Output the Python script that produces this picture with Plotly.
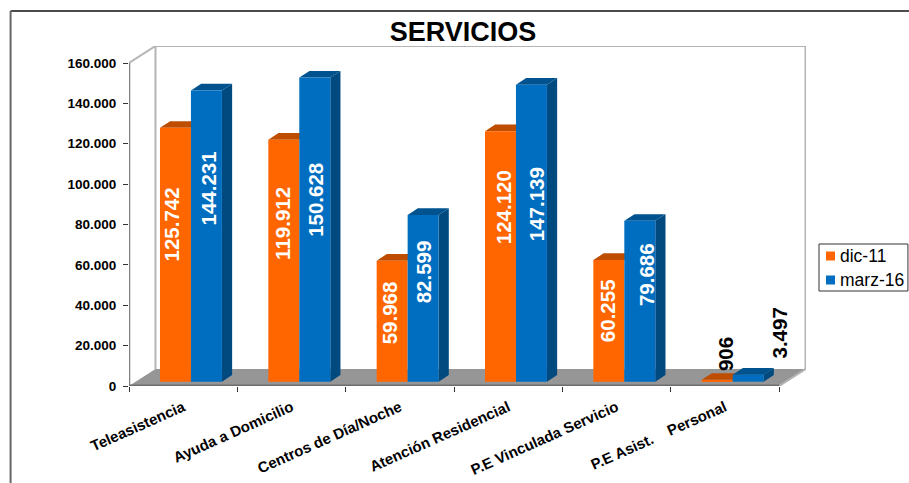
import plotly.graph_objects as go

categories = ["Teleasistencia", "Ayuda a Domicilio", "Centros de Día/Noche",
              "Atención Residencial", "P.E Vinculada Servicio",
              "P.E Asist.\u00a0\u00a0\u00a0\u00a0Personal"]
dic_11 = [125742, 119912, 59968, 124120, 60255, 906]
marz_16 = [144231, 150628, 82599, 147139, 79686, 3497]
y_ticks = [0, 20000, 40000, 60000, 80000, 100000, 120000, 140000, 160000]
y_tick_text = ["0", "20.000", "40.000", "60.000", "80.000", "100.000", "120.000", "140.000", "160.000"]

ORANGE, ORANGE_TOP = "#FF6600", "#BF4D00"
BLUE, BLUE_TOP, BLUE_SIDE = "#006EC0", "#00538F", "#004A80"

W, H = 909, 483
L, R, T, B = 128.5, 806.0, 46.0, 386.0       # plot area in page pixels
CAT_PX = 108.42                               # width of a category
UNIT_PX = 323 / 160000                        # pixels per data unit
XMAX = (R - L) / CAT_PX
YMAX = (B - T) / UNIT_PX
DEPTH_X, DEPTH_Y = 26.5 / CAT_PX, 17 / UNIT_PX   # chart box depth
BAR_DX, BAR_DY = 10.2 / CAT_PX, 6.7 / UNIT_PX    # bar depth
BAR_W = 31 / CAT_PX
BASE = 4.3 / UNIT_PX
ORANGE_C, BLUE_C = BAR_W * 1.5, BAR_W * 2.5

def px_x(p):
    return (p - L) / CAT_PX

def px_y(p):
    return (B - p) / UNIT_PX

def faces(values, centre):
    tx, ty, sx, sy = [], [], [], []
    for i, v in enumerate(values):
        a, b = i + centre - BAR_W / 2, i + centre + BAR_W / 2
        h = BASE + v
        tx += [a, b, b + BAR_DX, a + BAR_DX, a, None]
        ty += [h, h, h + BAR_DY, h + BAR_DY, h, None]
        sx += [b, b, b + BAR_DX, b + BAR_DX, b, None]
        sy += [BASE, h, h + BAR_DY, BASE + BAR_DY, BASE, None]
    return tx, ty, sx, sy

def poly(x, y, color):
    return go.Scatter(x=x, y=y, mode="lines", fill="toself", fillcolor=color,
                      line=dict(width=0, color=color), hoverinfo="skip", showlegend=False)

def line(x, y, color, width):
    return go.Scatter(x=x, y=y, mode="lines", line=dict(color=color, width=width),
                      hoverinfo="skip", showlegend=False)

fig = go.Figure()
n = len(categories)
# chart box
fig.add_trace(poly([0, DEPTH_X, n + DEPTH_X, n, 0], [0, DEPTH_Y, DEPTH_Y, 0, 0], "#969696"))
fig.add_trace(line([DEPTH_X, DEPTH_X, None, n + DEPTH_X, n + DEPTH_X, None, DEPTH_X, n + DEPTH_X, None, 0, DEPTH_X, None, n, n + DEPTH_X],
                   [DEPTH_Y, YMAX, None, DEPTH_Y, YMAX, None, YMAX, YMAX, None, 160000, YMAX, None, 0, DEPTH_Y],
                   "#B4B4B4", 2))
fig.add_trace(line([0, 0], [0, 160000], "#808080", 2.5))
fig.add_trace(line([0, n], [0, 0], "#6E6E6E", 3))

# bar tops and sides
otx, oty, osx, osy = faces(dic_11, ORANGE_C)
btx, bty, bsx, bsy = faces(marz_16, BLUE_C)
fig.add_trace(poly(otx, oty, ORANGE_TOP))
fig.add_trace(poly(bsx, bsy, BLUE_SIDE))
fig.add_trace(poly(btx, bty, BLUE_TOP))

# bar fronts
fig.add_trace(go.Bar(name="dic-11", x=[i + ORANGE_C for i in range(n)], y=dic_11, base=BASE,
                     width=BAR_W, marker=dict(color=ORANGE, line=dict(width=0)),
                     xaxis="x2", yaxis="y2", showlegend=False))
fig.add_trace(go.Bar(name="marz-16", x=[i + BLUE_C for i in range(n)], y=marz_16, base=BASE,
                     width=BAR_W, marker=dict(color=BLUE, line=dict(width=0)),
                     xaxis="x2", yaxis="y2", showlegend=False))

# data labels: text, centre x, centre y in page pixels, colour
label_spots = [
    ("125.742", 171, 224, "white"), ("144.231", 208, 188, "white"),
    ("119.912", 282, 223.5, "white"), ("150.628", 315, 199.5, "white"),
    ("59.968", 389, 313, "white"), ("82.599", 423, 272, "white"),
    ("124.120", 503, 207, "white"), ("147.139", 536, 204, "white"),
    ("60.255", 607, 311, "white"), ("79.686", 646, 275, "white"),
    ("906", 725, 354, "black"), ("3.497", 779, 333.5, "black"),
]
annotations = [dict(text=f"<b>{t}</b>", x=px_x(x), y=px_y(y), xref="x", yref="y", showarrow=False,
                    textangle=-90, xanchor="center", yanchor="middle",
                    font=dict(family="Liberation Sans", size=20.5, color=c))
               for t, x, y, c in label_spots]

# legend
legend_rows = [("dic-11", ORANGE, 256), ("marz-16", BLUE, 280)]
shapes = [
    dict(type="line", xref="paper", yref="paper", x0=(10 - L) / (R - L), x1=(W - L) / (R - L),
         y0=(B - 11) / (B - T), y1=(B - 11) / (B - T), line=dict(color="#111111", width=1.5)),
    dict(type="line", xref="paper", yref="paper", x0=(10 - L) / (R - L), x1=(10 - L) / (R - L),
         y0=(B - 11) / (B - T), y1=(B - H) / (B - T), line=dict(color="#666666", width=2)),
    dict(type="rect", xref="paper", yref="paper", x0=(819 - L) / (R - L), x1=(908 - L) / (R - L),
         y0=(B - 244) / (B - T), y1=(B - 291) / (B - T), line=dict(color="#333333", width=1), fillcolor="white"),
]
for name, color, yy in legend_rows:
    shapes.append(dict(type="rect", xref="paper", yref="paper", x0=(826 - L) / (R - L), x1=(835 - L) / (R - L),
                       y0=(B - yy + 4.5) / (B - T), y1=(B - yy - 4.5) / (B - T), line=dict(width=0), fillcolor=color))
    annotations.append(dict(text=name, xref="paper", yref="paper", x=(838.5 - L) / (R - L), y=(B - yy) / (B - T),
                            xanchor="left", yanchor="middle", showarrow=False,
                            font=dict(family="Liberation Sans", size=17.5, color="black")))

tick_font = dict(family="Liberation Sans", size=13.5, color="black")
x_tick_font = dict(family="Liberation Sans", size=15, color="black")
fig.update_layout(
    width=W, height=H, margin=dict(l=L, r=W - R, t=T, b=H - B, autoexpand=False),
    paper_bgcolor="white", plot_bgcolor="white", barmode="overlay", showlegend=False,
    title=dict(text="<b>SERVICIOS</b>", x=463 / W, xanchor="center", y=1 - 32 / H, yanchor="middle",
               font=dict(family="Liberation Sans", size=27, color="black")),
    xaxis=dict(range=[0, XMAX], tickmode="array", tickvals=list(range(n + 1)), ticktext=[""] * (n + 1),
               ticks="outside", ticklen=5, tickcolor="#333333", tickwidth=1, showgrid=False, zeroline=False, showline=False),
    yaxis=dict(range=[0, YMAX], tickmode="array", tickvals=y_ticks, ticktext=[f"<b>{t}</b>" for t in y_tick_text],
               ticks="outside", ticklen=5, tickcolor="#333333", tickwidth=1, tickfont=tick_font, ticklabelstandoff=4,
               showgrid=False, zeroline=False, showline=False),
    xaxis2=dict(range=[0, XMAX], overlaying="x", anchor="y2", side="bottom", tickmode="array",
                tickvals=[i + 0.5 for i in range(n)], ticktext=[f"<b>{c}</b>" for c in categories],
                tickangle=-24, ticks="outside", ticklen=6, tickcolor="rgba(0,0,0,0)", tickfont=x_tick_font,
                showgrid=False, zeroline=False, showline=False),
    yaxis2=dict(range=[0, YMAX], overlaying="y", anchor="x2", visible=False, showgrid=False, zeroline=False),
    annotations=annotations, shapes=shapes,
)
fig.write_html("out.html", config=dict(displayModeBar=False),
               post_script="document.body.style.margin='0';")
